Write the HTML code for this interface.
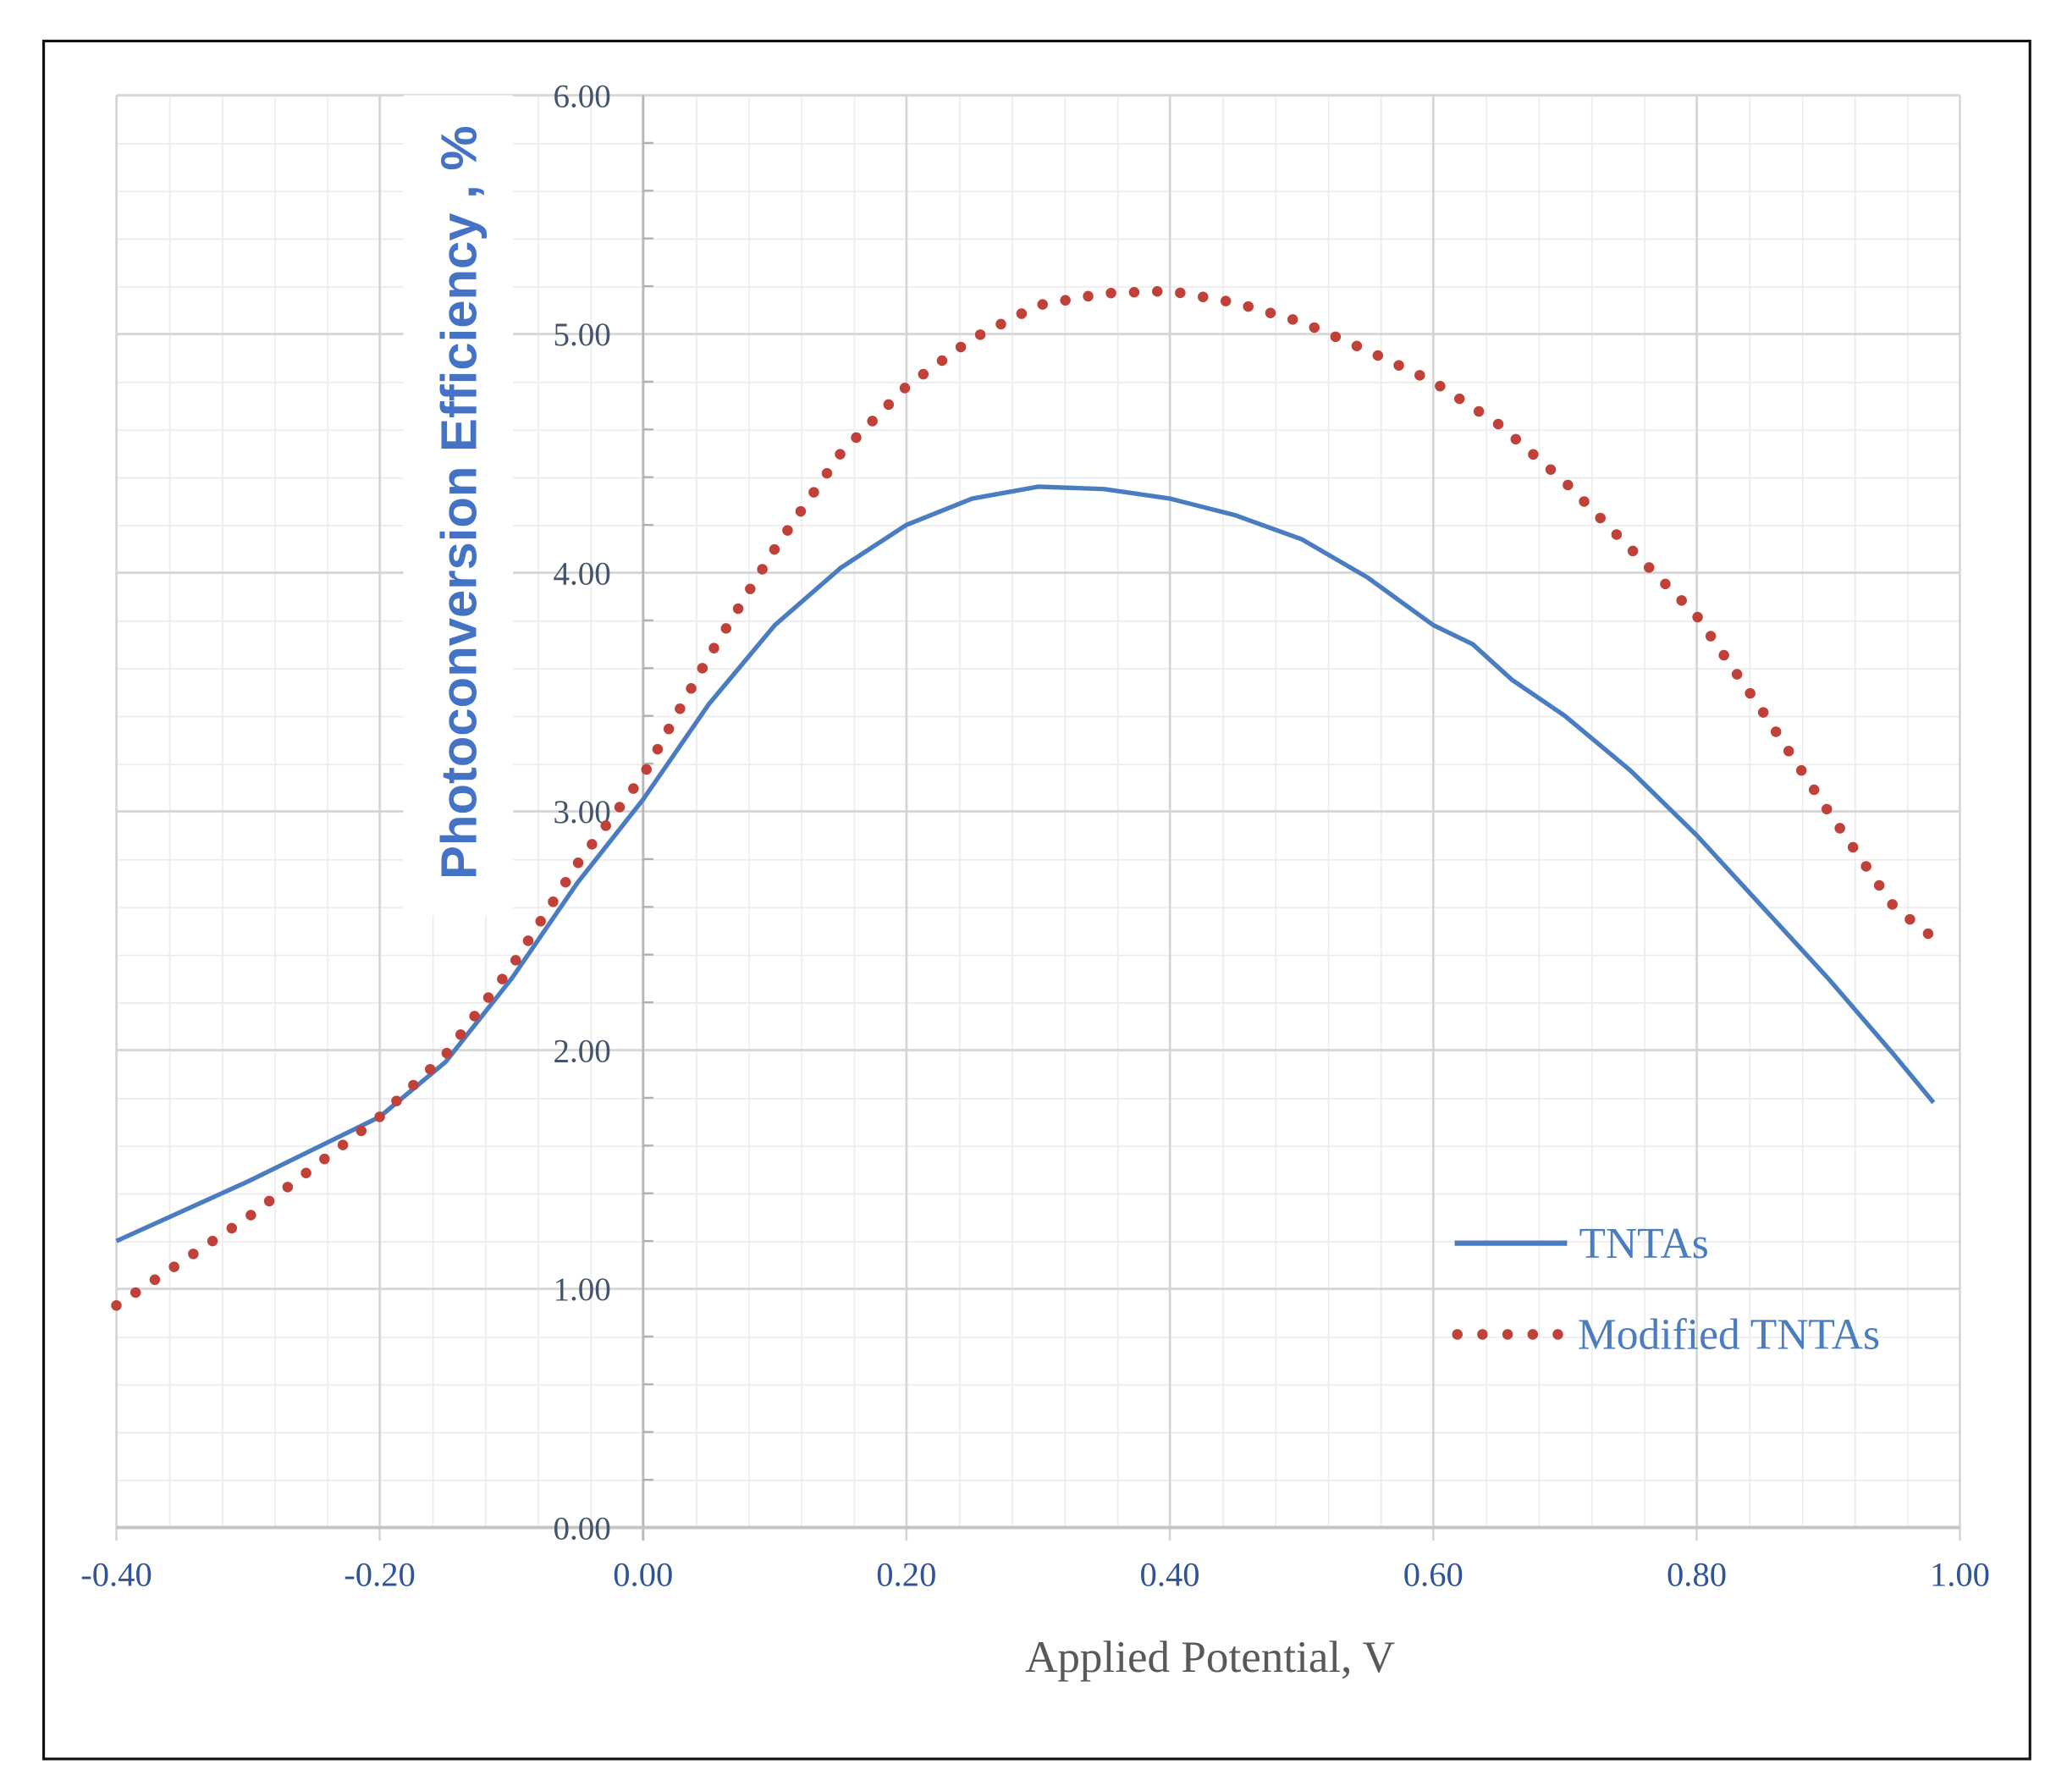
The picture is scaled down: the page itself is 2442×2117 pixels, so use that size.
<!DOCTYPE html>
<html><head><meta charset="utf-8"><style>html,body{margin:0;padding:0;background:#fff}svg{display:block}</style></head>
<body>
<svg width="2442" height="2117" viewBox="0 0 1563 1355" xmlns="http://www.w3.org/2000/svg">
<defs>
<pattern id="mn" patternUnits="userSpaceOnUse" x="88" y="72" width="39.828" height="36.1">
<line x1="0.5" y1="0" x2="0.5" y2="36.1" stroke="#ececec" stroke-width="1.2"/>
<line x1="0" y1="0.5" x2="39.828" y2="0.5" stroke="#ececec" stroke-width="1.2"/>
</pattern>
</defs>
<rect x="0" y="0" width="1563" height="1355" fill="#fff"/>
<rect x="33" y="31" width="1502" height="1299" fill="#fff" stroke="#111" stroke-width="2"/>
<rect x="88" y="72" width="1394" height="1083" fill="url(#mn)"/>
<g stroke="#d4d4d4" stroke-width="1.6">
<line x1="88" y1="72" x2="1482" y2="72"/><line x1="88" y1="252.5" x2="1482" y2="252.5"/><line x1="88" y1="433" x2="1482" y2="433"/><line x1="88" y1="613.5" x2="1482" y2="613.5"/><line x1="88" y1="794" x2="1482" y2="794"/><line x1="88" y1="974.5" x2="1482" y2="974.5"/>
<line x1="88" y1="72" x2="88" y2="1165"/><line x1="287.1" y1="72" x2="287.1" y2="1165"/><line x1="685.4" y1="72" x2="685.4" y2="1165"/><line x1="884.6" y1="72" x2="884.6" y2="1165"/><line x1="1083.8" y1="72" x2="1083.8" y2="1165"/><line x1="1283" y1="72" x2="1283" y2="1165"/><line x1="1482" y1="72" x2="1482" y2="1165"/>
</g>
<rect x="305" y="72" width="83" height="620" fill="#fff"/>
<line x1="486.3" y1="72" x2="486.3" y2="1165" stroke="#b8b8b8" stroke-width="1.8"/>
<line x1="88" y1="1155" x2="1482" y2="1155" stroke="#c4c4c4" stroke-width="2.5"/>
<g stroke="#b0b0b0" stroke-width="1.5">
<line x1="486" y1="108.1" x2="494" y2="108.1"/><line x1="486" y1="144.2" x2="494" y2="144.2"/><line x1="486" y1="180.3" x2="494" y2="180.3"/><line x1="486" y1="216.4" x2="494" y2="216.4"/>
<line x1="486" y1="288.6" x2="494" y2="288.6"/><line x1="486" y1="324.7" x2="494" y2="324.7"/><line x1="486" y1="360.8" x2="494" y2="360.8"/><line x1="486" y1="396.9" x2="494" y2="396.9"/>
<line x1="486" y1="469.1" x2="494" y2="469.1"/><line x1="486" y1="505.2" x2="494" y2="505.2"/><line x1="486" y1="541.3" x2="494" y2="541.3"/><line x1="486" y1="577.4" x2="494" y2="577.4"/>
<line x1="486" y1="649.6" x2="494" y2="649.6"/><line x1="486" y1="685.7" x2="494" y2="685.7"/><line x1="486" y1="721.8" x2="494" y2="721.8"/><line x1="486" y1="757.9" x2="494" y2="757.9"/>
<line x1="486" y1="830.1" x2="494" y2="830.1"/><line x1="486" y1="866.2" x2="494" y2="866.2"/><line x1="486" y1="902.3" x2="494" y2="902.3"/><line x1="486" y1="938.4" x2="494" y2="938.4"/>
<line x1="486" y1="1010.6" x2="494" y2="1010.6"/><line x1="486" y1="1046.7" x2="494" y2="1046.7"/><line x1="486" y1="1082.8" x2="494" y2="1082.8"/><line x1="486" y1="1118.9" x2="494" y2="1118.9"/>
</g>
<g font-family="Liberation Serif, serif" font-size="25" fill="#44546a" text-anchor="end">
<text x="462" y="81">6.00</text><text x="462" y="261">5.00</text><text x="462" y="442">4.00</text><text x="462" y="622">3.00</text><text x="462" y="803">2.00</text><text x="462" y="983">1.00</text><text x="462" y="1164">0.00</text>
</g>
<g font-family="Liberation Serif, serif" font-size="26" fill="#2f5597" text-anchor="middle">
<text x="88" y="1199">-0.40</text><text x="287.1" y="1199">-0.20</text><text x="486.3" y="1199">0.00</text><text x="685.4" y="1199">0.20</text><text x="884.6" y="1199">0.40</text><text x="1083.8" y="1199">0.60</text><text x="1283" y="1199">0.80</text><text x="1482" y="1199">1.00</text>
</g>
<text x="915" y="1264" font-family="Liberation Serif, serif" font-size="34" fill="#595959" text-anchor="middle">Applied Potential, V</text>
<text transform="translate(360,380) rotate(-90)" font-family="Liberation Sans, sans-serif" font-weight="bold" font-size="38" fill="#4472c4" text-anchor="middle" textLength="570" lengthAdjust="spacingAndGlyphs">Photoconversion  Efficiency , %</text>
<polyline fill="none" stroke="#4a7cc1" stroke-width="3.4" stroke-linejoin="round" points="88,938.4 187.6,893.3 287.1,844.5 336.9,803 386.9,739.9 436.6,667.6 486.3,604.5 536.1,532.3 585.9,472.7 635.7,429.4 685.4,396.9 735.2,377 785,368 834.8,369.8 884.6,377 934.4,389.7 984.2,407.7 1034,436.6 1083.8,472.7 1113.6,487.1 1143.5,514.2 1183.3,541.3 1233.1,582.8 1282.9,631.5 1332.7,685.7 1382.5,739.9 1432.2,797.6 1462.1,833.7"/>
<polyline fill="none" stroke="#c0403a" stroke-width="8" stroke-linecap="round" stroke-dasharray="0 17.5" points="88,987.1 187.6,920.4 287.1,844.5 336.9,797.6 386.9,730.8 436.6,653.2 486.3,586.4 536.1,496.2 585.9,415 635.7,342.8 685.4,292.2 735.2,256.1 785,230.8 834.8,221.8 884.6,220 934.4,229 984.2,243.5 1034,265.1 1083.8,288.6 1133.6,321.1 1183.3,364.4 1233.1,415 1282.9,465.5 1332.7,537.7 1382.5,613.5 1432.2,685.7 1462.1,709.2"/>
<line x1="1100" y1="940" x2="1185" y2="940" stroke="#4a7cc1" stroke-width="4"/>
<g fill="#c0403a"><circle cx="1102" cy="1009" r="4"/><circle cx="1121" cy="1009" r="4"/><circle cx="1140" cy="1009" r="4"/><circle cx="1159" cy="1009" r="4"/><circle cx="1178" cy="1009" r="4"/></g>
<g font-family="Liberation Serif, serif" font-size="33" fill="#4a7cc1">
<text x="1194" y="951">TNTAs</text><text x="1193" y="1020">Modified TNTAs</text>
</g>
</svg>
</body></html>
